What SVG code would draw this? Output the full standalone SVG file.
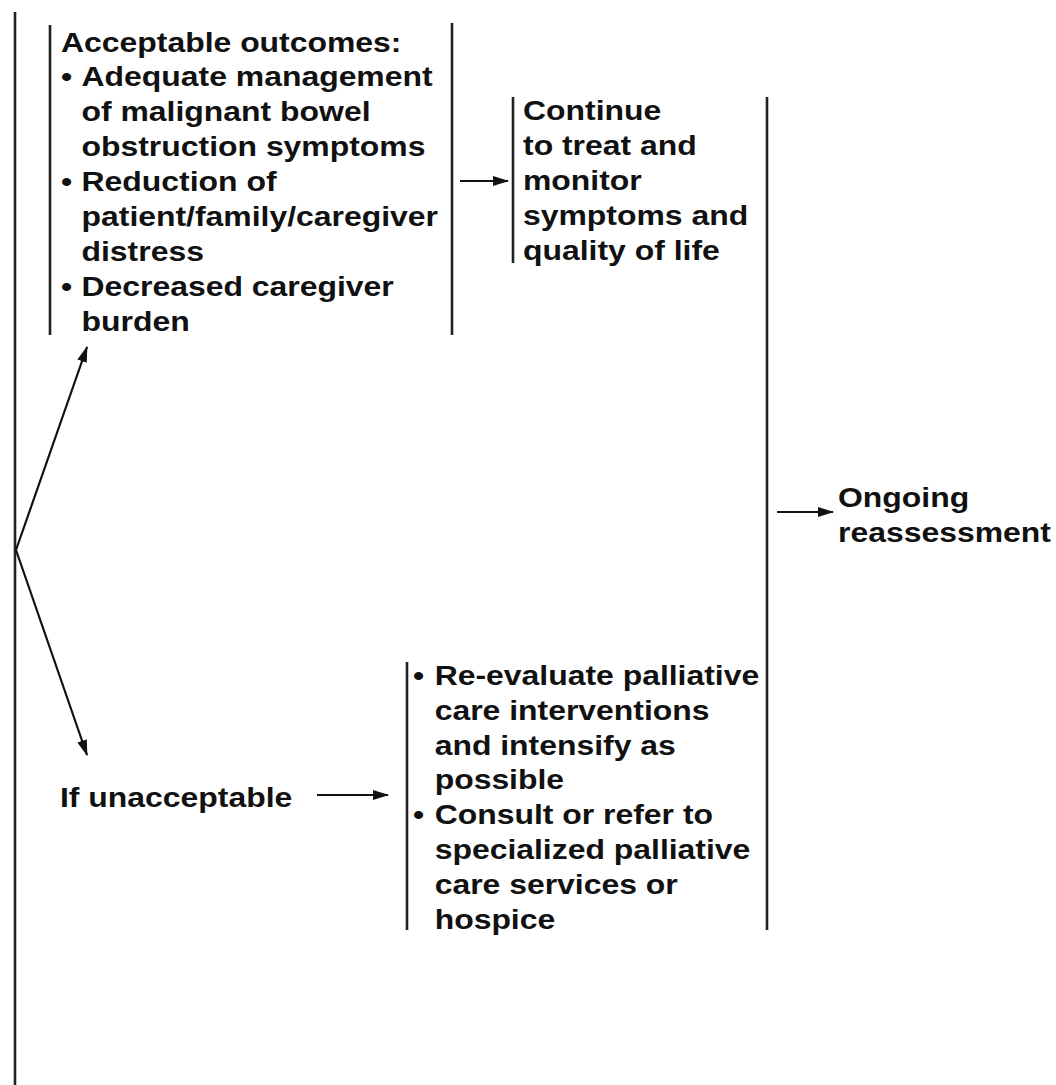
<svg xmlns="http://www.w3.org/2000/svg" width="1056" height="1085" viewBox="0 0 1056 1085">
<defs>
<style>
.t{font-family:"Liberation Sans",Arial,sans-serif;font-weight:bold;font-size:28px;fill:#111;}
.br{stroke:#222;stroke-width:2.6;fill:none;}
.cn{stroke:#111;stroke-width:2.2;fill:none;marker-end:url(#ah);}
</style>
<marker id="ah" viewBox="0 0 16 10" refX="15" refY="5" markerWidth="16" markerHeight="10" markerUnits="userSpaceOnUse" orient="auto">
<path d="M0,0 L16,5 L0,10 z" fill="#111"/>
</marker>
</defs>
<rect width="1056" height="1085" fill="#fff"/>

<g id="main-line">
<line class="br" x1="15" y1="12" x2="15" y2="1085"/>
</g>

<g id="acceptable">
<line class="br" x1="50" y1="25" x2="50" y2="335"/>
<line class="br" x1="452" y1="23" x2="452" y2="335"/>
<g transform="translate(61,0) scale(1.14,1)">
<text class="t" x="0" y="52">Acceptable outcomes:</text>
<text class="t" x="0" y="86">•</text>
<text class="t" x="18" y="86">Adequate management</text>
<text class="t" x="18" y="121">of malignant bowel</text>
<text class="t" x="18" y="156">obstruction symptoms</text>
<text class="t" x="0" y="191">•</text>
<text class="t" x="18" y="191">Reduction of</text>
<text class="t" x="18" y="226">patient/family/caregiver</text>
<text class="t" x="18" y="261">distress</text>
<text class="t" x="0" y="296">•</text>
<text class="t" x="18" y="296">Decreased caregiver</text>
<text class="t" x="18" y="331">burden</text>
</g>
</g>

<g id="continue">
<line class="br" x1="513" y1="97" x2="513" y2="263"/>
<g transform="translate(523,0) scale(1.14,1)">
<text class="t" x="0" y="120">Continue</text>
<text class="t" x="0" y="155">to treat and</text>
<text class="t" x="0" y="190">monitor</text>
<text class="t" x="0" y="225">symptoms and</text>
<text class="t" x="0" y="260">quality of life</text>
</g>
</g>

<g id="unacceptable">
<g transform="translate(60,0) scale(1.14,1)">
<text class="t" x="0" y="807">If unacceptable</text>
</g>
</g>

<g id="reevaluate">
<line class="br" x1="407" y1="662" x2="407" y2="930"/>
<g transform="translate(413,0) scale(1.14,1)">
<text class="t" x="0" y="685">•</text>
<text class="t" x="19" y="685">Re-evaluate palliative</text>
<text class="t" x="19" y="720">care interventions</text>
<text class="t" x="19" y="755">and intensify as</text>
<text class="t" x="19" y="789">possible</text>
<text class="t" x="0" y="824">•</text>
<text class="t" x="19" y="824">Consult or refer to</text>
<text class="t" x="19" y="859">specialized palliative</text>
<text class="t" x="19" y="894">care services or</text>
<text class="t" x="19" y="929">hospice</text>
</g>
</g>

<g id="collector">
<line class="br" x1="767" y1="97" x2="767" y2="930"/>
</g>

<g id="ongoing">
<g transform="translate(838,0) scale(1.14,1)">
<text class="t" x="0" y="507">Ongoing</text>
<text class="t" x="0" y="542">reassessment</text>
</g>
</g>

<g id="connectors">
<line class="cn" x1="16" y1="550" x2="87" y2="347"/>
<line class="cn" x1="16" y1="550" x2="87" y2="755"/>
<line class="cn" x1="460" y1="181" x2="508" y2="181"/>
<line class="cn" x1="317" y1="795" x2="388" y2="795"/>
<line class="cn" x1="777" y1="512" x2="833" y2="512"/>
</g>
</svg>
